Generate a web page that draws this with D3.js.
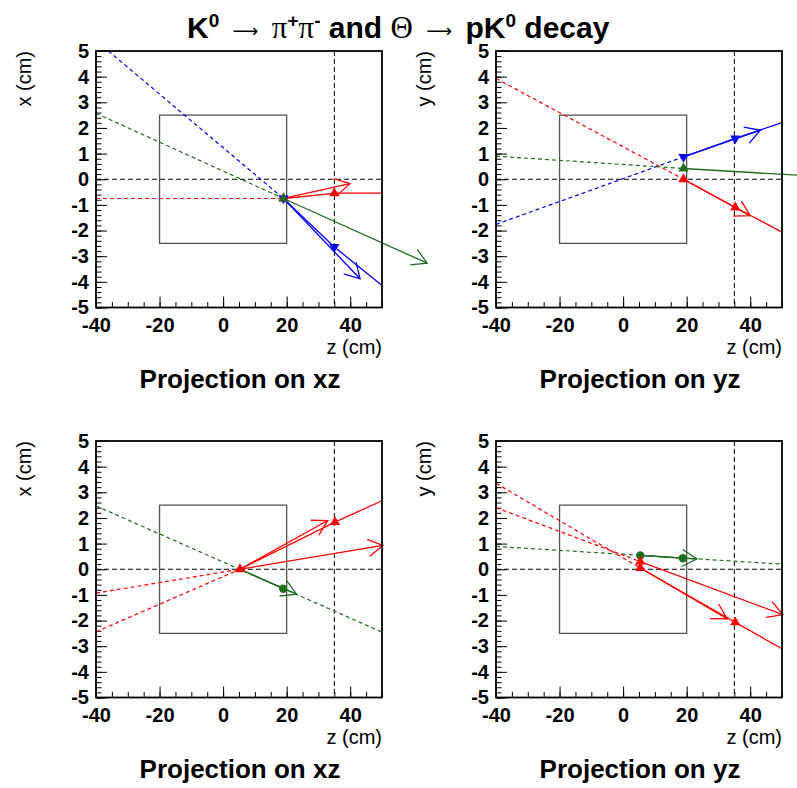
<!DOCTYPE html>
<html><head><meta charset="utf-8">
<script src="https://cdn.jsdelivr.net/npm/d3@7"></script>
<style>body{margin:0;background:#fff}svg{display:block}</style>
</head><body><svg id="c" width="797" height="788"></svg>
<script>
// ---------------- data ----------------
const zDomain = [-40, 50];
const vDomain = [-5, 5];
const zTicks = [-40, -20, 0, 20, 40];
const zMinorTicks = [-40,-35,-30,-25,-20,-15,-10,-5,0,5,10,15,20,25,30,35,40,45,50];
const vTicks = [-5, -4, -3, -2, -1, 0, 1, 2, 3, 4, 5];
const vMinorTicks = d3.range(-50, 51, 2).map(d => d / 10);
const boxZ = [-20, 20];
const boxV = [-2.5, 2.5];
const refZ = 35;
const refV = 0;
const projTitles = ["Projection on xz", "Projection on yz", "Projection on xz", "Projection on yz"];
const axisTitles = ["x (cm)", "y (cm)", "x (cm)", "y (cm)"];
const zTitle = "z (cm)";

// tracks: [track, z1, v1, z2, v2]  (track key -> colour)
const topXZ_dashed = [["r",-40,-0.75,19,-0.75],["g",-40,2.57,19,-0.75],["b",-36.1,5,19,-0.75]];
const topXZ_solid  = [["r",19,-0.75,35,-0.55],["r",35,-0.54,50,-0.54],["b",19,-0.75,35,-2.64],["b",35,-2.64,50,-4.14]];
const topXZ_arrows = [["r",19,-0.75,39.9,-0.17],["b",19,-0.75,43.1,-3.88],["g",19,-0.75,64.2,-3.27]];
const topXZ_marks  = [["r","up",35,-0.55],["b","down",35,-2.64],["r","up",19,-0.75],["b","down",19,-0.75],["g","up",19,-0.75]];

const topYZ_dashed = [["r",-40,3.93,19,0],["b",-40,-1.76,19,0.87],["g",-40,0.9,19,0.42]];
const topYZ_solid  = [["r",19,0,35.3,-1.1],["r",35.3,-1.1,50,-2.06],["b",19,0.87,35.3,1.59],["b",35.3,1.59,50,2.21]];
const topYZ_arrows = [["r",19,0,40,-1.42],["b",19,0.87,43.2,1.91],["g",19,0.42,64,0.09]];
const topYZ_marks  = [["r","up",19,0],["r","up",35.3,-1.1],["b","down",19,0.87],["b","down",35.3,1.59],["g","up",19,0.42]];

const botXZ_dashed = [["g",-40,2.47,50,-2.45],["r",-40,-0.93,5.3,0],["r",-40,-2.44,5.3,0]];
const botXZ_solid  = [["g",5.3,0,18.9,-0.76],["r",5.3,0,35.2,1.84],["r",35.2,1.84,50,2.67]];
const botXZ_arrows = [["g",5.3,0,23.1,-0.97],["r",5.3,0,32.9,1.9],["r",5.3,0,50.3,0.93]];
const botXZ_marks  = [["r","up",5.3,0],["r","up",35.2,1.84],["g","circle",18.9,-0.76]];

const botYZ_dashed = [["g",-40,0.89,50,0.2],["r",-40,3.35,5.4,0.05],["r",-40,2.4,5.4,0.3]];
const botYZ_solid  = [["g",5.4,0.54,18.8,0.43],["r",5.4,0.05,35.3,-2.07],["r",35.3,-2.07,50,-3.1]];
const botYZ_arrows = [["g",5.4,0.54,23.2,0.4],["r",5.4,0.05,32.7,-1.93],["r",5.4,0.3,50.3,-1.77]];
const botYZ_marks  = [["g","circle",5.4,0.54],["g","circle",18.8,0.43],["r","up",5.4,0.3],["r","up",5.4,0.05],["r","up",35.3,-2.07]];

// ---------------- drawing ----------------
const color = d3.scaleOrdinal().domain(["r","b","g"]).range(["#ff0000","#0000ff","#1f6e1f"]);
const SANS = "'Liberation Sans', Arial, Helvetica, sans-serif";
const SERIF = "'Liberation Serif', 'DejaVu Serif', 'Times New Roman', serif";
const svg = d3.select("#c");
svg.append("rect").attr("width",797).attr("height",788).attr("fill","#fff");

// title
const title = svg.append("text").attr("x",187).attr("y",38).attr("text-anchor","start")
  .attr("font-family",SANS).attr("font-weight","bold").attr("font-size",30).attr("fill","#000");
// [text, kind, extra gap before]
const parts = [
  ["K","n",0],["0","sup",0],[" ","n",0],["\u27F6","arr",5],[" ","n",5],["\u03c0","sym",0],["+","sup",0],["\u03c0","sym",0],["-","sup",0],
  [" and ","n",0],["\u0398","sym",0],[" ","n",0],["\u27F6","arr",5],[" ","n",5],["pK","n",0],["0","sup",0],[" decay","n",0]
];
let shift = 0; // current vertical offset
parts.forEach(([t,k,gap]) => {
  const ts = title.append("tspan").text(t);
  let target = 0;
  if (k === "sup") { ts.attr("font-size",19); target = -11; }
  else if (k === "sym") ts.attr("font-family",SERIF).attr("font-weight","normal").attr("font-size",31);
  else if (k === "arr") { ts.attr("font-family","'DejaVu Sans', sans-serif").attr("font-weight","normal").attr("font-size",18); target = -1; }
  if (target !== shift) { ts.attr("dy", target - shift); shift = target; }
  if (gap) ts.attr("dx", gap);
});

const panels = [
  {x0:96, y0:51,  dashed:topXZ_dashed, solid:topXZ_solid, arrows:topXZ_arrows, marks:topXZ_marks, i:0},
  {x0:496,y0:51,  dashed:topYZ_dashed, solid:topYZ_solid, arrows:topYZ_arrows, marks:topYZ_marks, i:1},
  {x0:96, y0:441, dashed:botXZ_dashed, solid:botXZ_solid, arrows:botXZ_arrows, marks:botXZ_marks, i:2},
  {x0:496,y0:441, dashed:botYZ_dashed, solid:botYZ_solid, arrows:botYZ_arrows, marks:botYZ_marks, i:3}
];
const PW = 286, PH = 256.5;

panels.forEach(p => {
  const g = svg.append("g").attr("transform",`translate(${p.x0},${p.y0})`);
  const x = d3.scaleLinear().domain(zDomain).range([0,PW]);
  const y = d3.scaleLinear().domain(vDomain).range([PH,0]);

  const styleAxis = a => {
    a.select(".domain").remove();
    a.selectAll("line").attr("stroke","#000").attr("stroke-width",1);
    a.selectAll("text").attr("font-family",SANS).attr("font-weight","bold").attr("font-size",20).attr("fill","#000");
  };
  g.append("g").attr("transform",`translate(0,${PH})`)
    .call(d3.axisBottom(x).tickValues(zMinorTicks).tickSize(-5.5).tickFormat("")).call(styleAxis);
  g.append("g").attr("transform",`translate(0,${PH})`)
    .call(d3.axisBottom(x).tickValues(zTicks).tickSize(-11).tickPadding(10).tickFormat(d => String(d))).call(styleAxis);
  g.append("g")
    .call(d3.axisLeft(y).tickValues(vMinorTicks).tickSize(-5.5).tickFormat("")).call(styleAxis);
  g.append("g")
    .call(d3.axisLeft(y).tickValues(vTicks).tickSize(-11).tickPadding(7).tickFormat(d => String(d))).call(styleAxis);

  // detector box
  g.append("rect").attr("x",x(boxZ[0])).attr("y",y(boxV[1]))
    .attr("width",x(boxZ[1])-x(boxZ[0])).attr("height",y(boxV[0])-y(boxV[1]))
    .attr("fill","none").attr("stroke","#555").attr("stroke-width",1.3);

  // reference dashed lines
  g.append("line").attr("x1",0).attr("x2",PW).attr("y1",y(refV)).attr("y2",y(refV))
    .attr("stroke","#000").attr("stroke-width",1).attr("stroke-dasharray","5,3");
  g.append("line").attr("x1",x(refZ)).attr("x2",x(refZ)).attr("y1",0).attr("y2",PH)
    .attr("stroke","#000").attr("stroke-width",1).attr("stroke-dasharray","5,3");

  // extrapolations
  g.selectAll(".dash").data(p.dashed).join("line")
    .attr("x1",d=>x(d[1])).attr("y1",d=>y(d[2])).attr("x2",d=>x(d[3])).attr("y2",d=>y(d[4]))
    .attr("stroke",d=>color(d[0])).attr("stroke-width",1.2).attr("stroke-dasharray","4,3");
  // tracks
  g.selectAll(".solid").data(p.solid).join("line")
    .attr("x1",d=>x(d[1])).attr("y1",d=>y(d[2])).attr("x2",d=>x(d[3])).attr("y2",d=>y(d[4]))
    .attr("stroke",d=>color(d[0])).attr("stroke-width",1.3);
  // arrows
  p.arrows.forEach(d => {
    const x1=x(d[1]), y1=y(d[2]), x2=x(d[3]), y2=y(d[4]);
    const a = Math.atan2(y2-y1, x2-x1), L = 17, th = Math.PI/6;
    const pts = [[x2 - L*Math.cos(a-th), y2 - L*Math.sin(a-th)], [x2,y2], [x2 - L*Math.cos(a+th), y2 - L*Math.sin(a+th)]];
    g.append("line").attr("x1",x1).attr("y1",y1).attr("x2",x2).attr("y2",y2)
      .attr("stroke",color(d[0])).attr("stroke-width",1.3);
    g.append("path").attr("d",d3.line()(pts)).attr("fill","none")
      .attr("stroke",color(d[0])).attr("stroke-width",1.3);
  });
  // markers
  g.selectAll(".mk").data(p.marks).join("path")
    .attr("d",d=> d[1]==="circle" ? d3.symbol(d3.symbolCircle,55)() : d3.symbol(d3.symbolTriangle,45)())
    .attr("transform",d=>`translate(${x(d[2])},${y(d[3])})${d[1]==="down"?" rotate(180)":""}`)
    .attr("fill",d=>color(d[0]));

  // frame
  g.append("rect").attr("x",0).attr("y",0).attr("width",PW).attr("height",PH)
    .attr("fill","none").attr("stroke","#000").attr("stroke-width",1.8);

  // titles
  g.append("text").attr("transform",`translate(-65,0) rotate(-90)`).attr("text-anchor","end")
    .attr("font-family",SANS).attr("font-size",20).attr("fill","#000").text(axisTitles[p.i]);
  g.append("text").attr("x",PW).attr("y",PH+46).attr("text-anchor","end")
    .attr("font-family",SANS).attr("font-size",20).attr("fill","#000").text(zTitle);
  g.append("text").attr("x",144).attr("y",PH+80).attr("text-anchor","middle")
    .attr("font-family",SANS).attr("font-weight","bold").attr("font-size",26).attr("fill","#000").text(projTitles[p.i]);
});
</script></body></html>
